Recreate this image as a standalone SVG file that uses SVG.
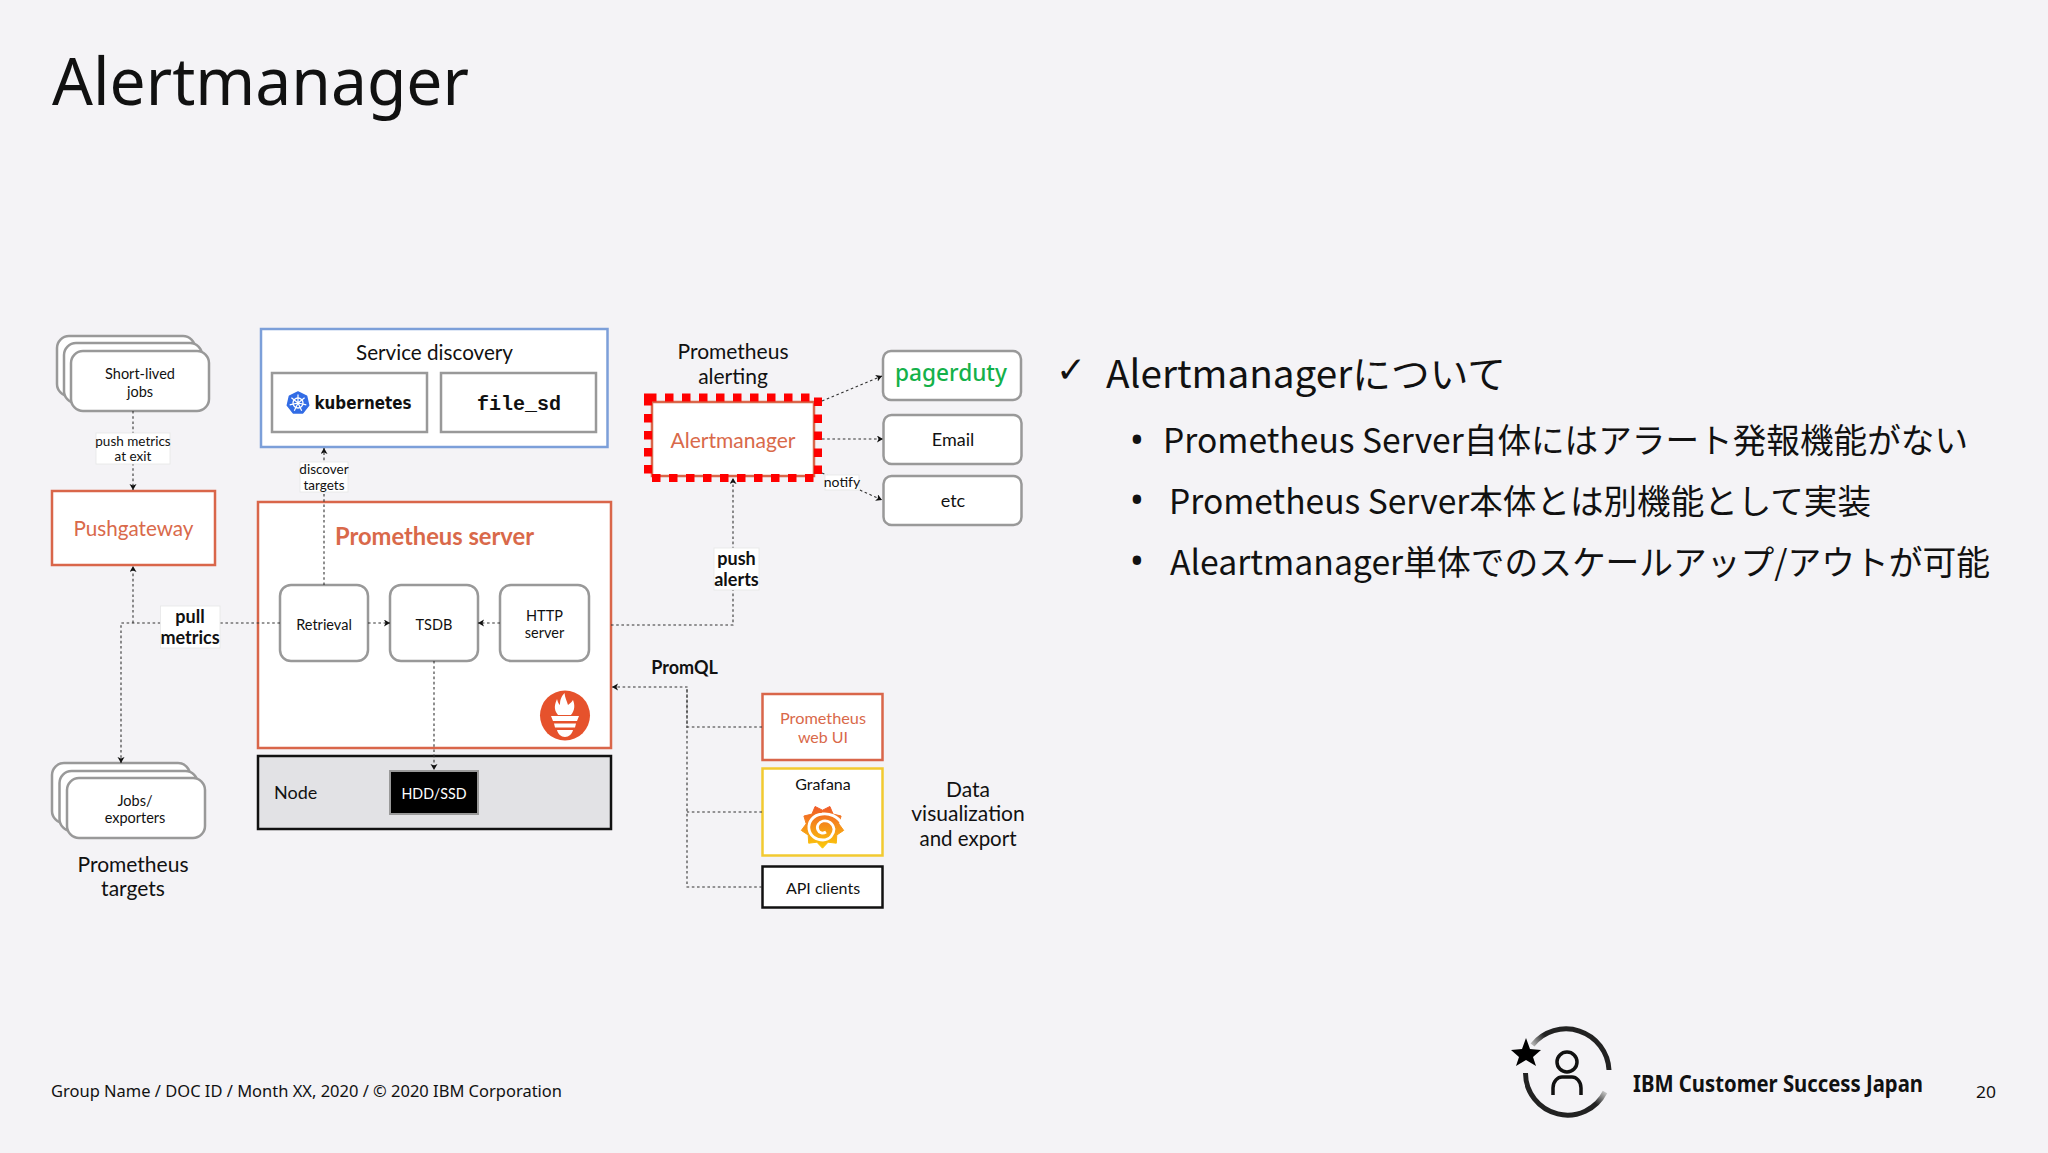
<svg xmlns="http://www.w3.org/2000/svg" width="2048" height="1153" viewBox="0 0 2048 1153">
<style>
text{font-family:"Lato","Noto Sans",sans-serif;fill:#111;text-anchor:middle}
.p{font-family:"Noto Sans","Noto Sans CJK JP",sans-serif;text-anchor:start}
.jp{font-family:"Noto Sans CJK JP","Noto Sans",sans-serif;text-anchor:start}
.b{font-weight:700}
.o{fill:#d9694a}
.s14{font-size:14.5px}.s18{font-size:18px}.s20{font-size:21px}
.grey{fill:#fff;stroke:#999;stroke-width:2.5}
.oran{fill:#fff;stroke:#d9664a;stroke-width:2.5}
.lab{fill:#fff;stroke:#e6e6e6;stroke-width:.8}
.c{fill:none;stroke:#333;stroke-width:1.1;stroke-dasharray:2.6 2.6}
</style>
<defs>
<marker id="a" markerUnits="userSpaceOnUse" markerWidth="8" markerHeight="8" refX="6" refY="3.5" orient="auto"><path d="M0,0L6,3.5L0,7L1.5,3.5Z" fill="#111"/></marker>
<linearGradient id="gr" x1="0" y1="0" x2="0" y2="1"><stop offset="0" stop-color="#f05a28"/><stop offset="1" stop-color="#fbca0a"/></linearGradient>
<linearGradient id="f1" gradientUnits="userSpaceOnUse" x1="1532" y1="1045" x2="1545" y2="1036"><stop offset="0" stop-color="#bbb"/><stop offset="1" stop-color="#222"/></linearGradient>
<linearGradient id="f2" gradientUnits="userSpaceOnUse" x1="1606" y1="1092" x2="1596" y2="1104"><stop offset="0" stop-color="#ccc"/><stop offset="1" stop-color="#222"/></linearGradient>
</defs>
<rect width="2048" height="1153" fill="#f4f3f6"/>

<g id="title"><text class="p" x="52" y="105" font-size="66" textLength="417" lengthAdjust="spacingAndGlyphs">Alertmanager</text></g>

<g id="short-lived-jobs">
<rect class="grey" x="57" y="336" width="138" height="60" rx="12"/>
<rect class="grey" x="64" y="343" width="138" height="60" rx="12"/>
<rect class="grey" x="71" y="351" width="138" height="60" rx="12"/>
<text class="s14" x="140" y="379">Short-lived</text><text class="s14" x="140" y="397">jobs</text>
</g>
<g id="pushgateway">
<rect class="oran" x="52" y="491" width="163" height="74"/>
<text class="o" x="133.500" y="536" font-size="22" textLength="120" lengthAdjust="spacingAndGlyphs">Pushgateway</text>
</g>

<g id="service-discovery">
<rect x="261" y="329" width="346.500" height="118" fill="#fff" stroke="#7c9fd9" stroke-width="2.500"/>
<text class="s20" x="434.500" y="360" textLength="157" lengthAdjust="spacingAndGlyphs">Service discovery</text>
</g>
<g id="kubernetes">
<rect class="grey" x="272" y="373" width="155" height="59"/>
<path d="M298,392L306.600,396.100L308.700,405.400L302.800,412.900L293.200,412.900L287.300,405.400L289.400,396.100Z" fill="#326ce5" stroke="#326ce5" stroke-width="1.500" stroke-linejoin="round"/>
<circle cx="298" cy="403" r="5" fill="none" stroke="#fff" stroke-width="1.300"/>
<path d="M298,403L298,394.500M298,403L304.600,397.700M298,403L306.300,404.900M298,403L301.700,410.700M298,403L294.300,410.700M298,403L289.700,404.900M298,403L291.400,397.700" stroke="#fff" stroke-width="1.200"/>
<text x="363" y="409" font-size="18" style="font-family:'DejaVu Sans',sans-serif;font-weight:700" textLength="97" lengthAdjust="spacingAndGlyphs">kubernetes</text>
</g>
<g id="file-sd">
<rect class="grey" x="441" y="373" width="155" height="59"/>
<text x="519" y="410" font-size="20" style="font-family:'Liberation Mono',monospace;font-weight:700">file_sd</text>
</g>

<g id="prometheus-server">
<path class="oran" d="M258,502H611V748H258Z"/>
<text class="o b" x="434.500" y="545" font-size="24" textLength="199" lengthAdjust="spacingAndGlyphs">Prometheus server</text>
<g id="prometheus-logo">
<circle cx="565" cy="715.500" r="25" fill="#e6522c"/>
<path d="M558,715C553,709 555,704 557,699C558,703 559,704 560,705C560,700 561,697 564.500,693C565,698 567,701 568,705C569,704 571,703 573,700C575,705 575,710 571,715Z" fill="#fff"/>
<path d="M551,716H579L577,721H553ZM554,723.500H576L575,727.500H555ZM557,730H573C572,734 569,737 565,737C561,737 558,734 557,730Z" fill="#fff"/>
</g>
</g>
<g id="retrieval"><rect class="grey" x="280" y="585" width="88" height="76" rx="11"/><text class="s14" x="324" y="630">Retrieval</text></g>
<g id="tsdb"><rect class="grey" x="390" y="585" width="88" height="76" rx="11"/><text class="s14" x="434" y="630">TSDB</text></g>
<g id="http-server"><rect class="grey" x="500" y="585" width="89" height="76" rx="11"/><text class="s14" x="544.500" y="621">HTTP</text><text class="s14" x="544.500" y="638">server</text></g>

<g id="node">
<rect x="258" y="756" width="353" height="73" fill="#e2e2e5" stroke="#111" stroke-width="2.500"/>
<text class="s18" x="274" y="799" style="text-anchor:start">Node</text>
</g>
<g id="hdd-ssd">
<rect x="390" y="771" width="88" height="43" fill="#000" stroke="#999" stroke-width="2"/>
<text x="434" y="799" font-size="16" style="fill:#fff" textLength="65" lengthAdjust="spacingAndGlyphs">HDD/SSD</text>
</g>

<g id="jobs-exporters">
<rect class="grey" x="52" y="763" width="138" height="60" rx="12"/>
<rect class="grey" x="59.500" y="771" width="138" height="60" rx="12"/>
<rect class="grey" x="67" y="778" width="138" height="60" rx="12"/>
<text class="s14" x="135" y="806">Jobs/</text><text class="s14" x="135" y="823">exporters</text>
</g>
<g id="prometheus-targets"><text class="s20" x="133" y="872">Prometheus</text><text class="s20" x="133" y="896">targets</text></g>

<g id="prometheus-alerting"><text class="s20" x="733" y="359">Prometheus</text><text class="s20" x="733" y="384">alerting</text></g>
<g id="alertmanager">
<rect class="oran" x="652" y="402" width="162" height="74"/>
<path d="M648,397.500H818V478H648Z" fill="none" stroke="#f00" stroke-width="8" stroke-dasharray="8.500 8.500"/>
<text class="o" x="733" y="448" font-size="22" textLength="125" lengthAdjust="spacingAndGlyphs">Alertmanager</text>
</g>
<g id="pagerduty">
<rect class="grey" x="883" y="351" width="138" height="49" rx="8"/>
<text x="951" y="381" font-size="24" style="fill:#14b14a;font-family:'Noto Sans',sans-serif;font-weight:500" textLength="112" lengthAdjust="spacingAndGlyphs">pagerduty</text>
</g>
<g id="email"><rect class="grey" x="883.500" y="415" width="138" height="49" rx="8"/><text class="s18" x="953" y="446">Email</text></g>
<g id="etc"><rect class="grey" x="883.500" y="476" width="138" height="49" rx="8"/><text class="s18" x="953" y="507">etc</text></g>

<g id="prometheus-web-ui">
<rect class="oran" x="762.500" y="694" width="120" height="66"/>
<text class="o" x="823" y="724" font-size="16" textLength="86" lengthAdjust="spacingAndGlyphs">Prometheus</text><text class="o" x="823" y="743" font-size="16">web UI</text>
</g>
<g id="grafana">
<rect x="762.500" y="768.500" width="120" height="87" fill="#fff" stroke="#f2ca30" stroke-width="2.500"/>
<text x="823" y="790" font-size="16">Grafana</text>
<path d="M815.100,806.500L822.500,810.200L829.900,806.500L833.100,814.100L841.100,816L838.800,823.800L843.700,830.400L836.800,835L836.300,843.200L828.100,842.200L822.500,848.200L816.900,842.200L808.700,843.200L808.200,835L801.300,830.400L806.200,823.800L803.900,816L811.900,814.100Z" fill="url(#gr)" stroke="url(#gr)" stroke-width="1" stroke-linejoin="round"/>
<path d="M842,824C838,816 829,813 822,814C813,815 808,822 809,829C810,836 816,840 823,840C830,840 834,834 834,829C833,823 828,820 823,821C819,822 816,826 818,830C819,833 823,834 826,832" fill="none" stroke="#fff" stroke-width="2.800"/>
</g>
<g id="api-clients">
<rect x="762.500" y="866.500" width="120" height="41" fill="#fff" stroke="#111" stroke-width="2.500"/>
<text x="823" y="894" font-size="16">API clients</text>
</g>
<g id="data-visualization">
<text class="s20" x="968" y="797">Data</text><text class="s20" x="968" y="821">visualization</text><text class="s20" x="968" y="846" textLength="97" lengthAdjust="spacingAndGlyphs">and export</text>
</g>

<g id="connectors">
<path class="c" d="M133,411V490" marker-end="url(#a)"/>
<path class="c" d="M324,585V448" marker-end="url(#a)"/>
<path class="c" d="M280,623H121V763" marker-end="url(#a)"/>
<path class="c" d="M133,623V566" marker-end="url(#a)"/>
<path class="c" d="M368,623H390" marker-end="url(#a)"/>
<path class="c" d="M500,623H478" marker-end="url(#a)"/>
<path class="c" d="M434,661V770" marker-end="url(#a)"/>
<path class="c" d="M611,625H733V478" marker-end="url(#a)"/>
<path class="c" d="M822,401L882,376" marker-end="url(#a)"/>
<path class="c" d="M822,439H883" marker-end="url(#a)"/>
<path class="c" d="M822,473L882,500" marker-end="url(#a)"/>
<path class="c" d="M762,727H687V687H612" marker-end="url(#a)"/>
<path class="c" d="M762,812H687M762,887H687V687"/>
</g>

<g id="label-push-metrics">
<rect class="lab" x="96" y="433" width="74" height="31"/>
<text x="133" y="446" font-size="13.500">push metrics</text><text x="133" y="461" font-size="13.500">at exit</text>
</g>
<g id="label-discover">
<rect class="lab" x="300" y="462" width="48" height="30"/>
<text x="324" y="474" font-size="13.500">discover</text><text x="324" y="490" font-size="13.500">targets</text>
</g>
<g id="label-pull-metrics">
<rect class="lab" x="160.500" y="606" width="59.500" height="42"/>
<text class="b s18" x="190" y="623">pull</text><text class="b s18" x="190" y="644">metrics</text>
</g>
<g id="label-notify"><rect class="lab" x="825" y="475" width="34" height="15"/><text x="842" y="487" font-size="14">notify</text></g>
<g id="label-push-alerts">
<rect class="lab" x="714" y="548" width="45" height="42"/>
<text class="b s18" x="736.500" y="565">push</text><text class="b s18" x="736.500" y="586">alerts</text>
</g>
<g id="label-promql"><text class="b s18" x="684.500" y="674">PromQL</text></g>

<g id="bullets">
<text x="1071" y="382" font-size="36" style="font-family:'DejaVu Sans',sans-serif">✓</text>
<text class="jp" x="1106" y="388" font-size="38" textLength="400" lengthAdjust="spacingAndGlyphs">Alertmanagerについて</text>
<text x="1137" y="453" font-size="38" style="font-family:'Noto Sans',sans-serif">•</text>
<text class="jp" x="1163" y="453" font-size="34" textLength="805" lengthAdjust="spacingAndGlyphs">Prometheus Server自体にはアラート発報機能がない</text>
<text x="1137" y="513" font-size="38" style="font-family:'Noto Sans',sans-serif">•</text>
<text class="jp" x="1169" y="514" font-size="34" textLength="702" lengthAdjust="spacingAndGlyphs">Prometheus Server本体とは別機能として実装</text>
<text x="1137" y="574" font-size="38" style="font-family:'Noto Sans',sans-serif">•</text>
<text class="jp" x="1170" y="575" font-size="34" textLength="820" lengthAdjust="spacingAndGlyphs">Aleartmanager単体でのスケールアップ/アウトが可能</text>
</g>

<g id="footer">
<text class="p" x="51" y="1097" font-size="17" textLength="511" lengthAdjust="spacingAndGlyphs">Group Name / DOC ID / Month XX, 2020 / © 2020 IBM Corporation</text>
<text class="p" x="1976" y="1098" font-size="17" textLength="20" lengthAdjust="spacingAndGlyphs">20</text>
</g>
<g id="csj-logo">
<path d="M1532.500,1045A43,43 0 0 1 1609,1070" fill="none" stroke="url(#f1)" stroke-width="5"/>
<path d="M1525.500,1073A42,42 0 0 0 1605,1092" fill="none" stroke="url(#f2)" stroke-width="5"/>
<path d="M1526,1038L1530,1049L1541,1050L1533,1057L1536,1066L1526,1060L1516,1066L1519,1057L1511,1050L1522,1049Z" fill="#000"/>
<circle cx="1567" cy="1062" r="10" fill="none" stroke="#111" stroke-width="3.500"/>
<path d="M1553,1095V1088C1553,1081 1558,1077 1562,1077H1572C1576,1077 1581,1081 1581,1088V1095" fill="none" stroke="#111" stroke-width="3.500"/>
</g>
<g id="csj-text"><text class="p b" x="1633" y="1092" font-size="23" textLength="290" lengthAdjust="spacingAndGlyphs">IBM Customer Success Japan</text></g>
</svg>
